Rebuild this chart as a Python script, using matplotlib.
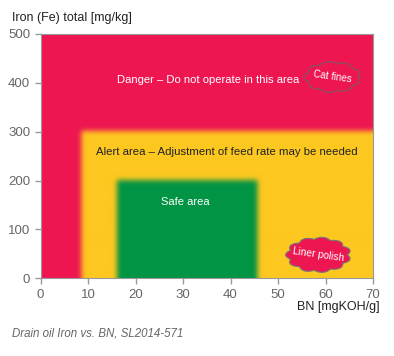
import matplotlib
matplotlib.use('Agg')
import numpy as np
import matplotlib.pyplot as plt
from matplotlib.patches import Polygon

# zones: danger, alert, safe (drawn in that order, later ones on top)
zone_x0 = [0, 8.5, 16]
zone_x1 = [70, 70, 45.5]
zone_y1 = [500, 300, 200]
zone_colors = ['#ee1651', '#fdc81f', '#009444']

zone_labels = ['Danger \u2013 Do not operate in this area',
               'Alert area \u2013 Adjustment of feed rate may be needed',
               'Safe area']
label_x = [35.3, 39.3, 30.5]
label_y = [405, 258, 157]
label_colors = ['white', '#222222', 'white']

cloud_names = ['Cat fines', 'Liner polish']
cloud_x = [61.5, 58.5]
cloud_y = [412, 48]

xticks = [0, 10, 20, 30, 40, 50, 60, 70]
yticks = [0, 100, 200, 300, 400, 500]

plt.rcParams['font.family'] = ['Liberation Sans', 'DejaVu Sans']

fig = plt.figure(figsize=(3.94, 3.56), dpi=100)
ax = fig.add_axes([0.1028, 0.2183, 0.8439, 0.6862])

# build the coloured field and soften the borders
nx, ny = 666, 488
xs = np.linspace(0, 70, nx)
ys = np.linspace(0, 500, ny)
X, Y = np.meshgrid(xs, ys)
img = np.zeros((ny, nx, 3))
for x0, x1, y1, c in zip(zone_x0, zone_x1, zone_y1, zone_colors):
    m = (X >= x0) & (X <= x1) & (Y <= y1)
    img[m] = matplotlib.colors.to_rgb(c)

def blur(a, sigma):
    r = int(3 * sigma)
    k = np.exp(-0.5 * (np.arange(-r, r + 1) / sigma) ** 2)
    k /= k.sum()
    out = a.copy()
    for ch in range(3):
        p = np.pad(a[:, :, ch], ((0, 0), (r, r)), mode='edge')
        out[:, :, ch] = np.array([np.convolve(row, k, mode='valid') for row in p])
        p = np.pad(out[:, :, ch], ((r, r), (0, 0)), mode='edge')
        out[:, :, ch] = np.array([np.convolve(col, k, mode='valid') for col in p.T]).T
    return out

img = blur(img, 5)
ax.imshow(img, origin='lower', extent=[0, 70, 0, 500], aspect='auto',
          interpolation='bilinear')

label_sizes = [8.1, 8.2, 8]
for t, x, y, c, fs in zip(zone_labels, label_x, label_y, label_colors, label_sizes):
    ax.text(x, y, t, color=c, fontsize=fs, ha='center', va='center')

def cloud(cx, cy, w, h, n=9):
    t = np.linspace(0, 2 * np.pi, 400)
    s = 1 + 0.13 * np.abs(np.sin(n * t / 2))
    return np.column_stack([cx + w * s * np.cos(t), cy + h * s * np.sin(t)])

# cat fines: dashed outline only
ax.add_patch(Polygon(cloud(cloud_x[0], cloud_y[0], 5.3, 28), closed=True,
                     fill=False, ec='#666666', lw=1, ls=(0, (2, 1))))
ax.text(cloud_x[0], cloud_y[0], cloud_names[0], color='white', fontsize=7,
        ha='center', va='center', rotation=-8)
# liner polish: filled cloud
ax.add_patch(Polygon(cloud(cloud_x[1], cloud_y[1], 6.1, 32, n=11), closed=True,
                     fc='#ee1651', ec='#777777', lw=0.8))
ax.text(cloud_x[1], cloud_y[1], cloud_names[1], color='white', fontsize=7.3,
        ha='center', va='center', rotation=-8)

ax.set_xlim(0, 70)
ax.set_ylim(0, 500)
ax.set_xticks(xticks)
ax.set_yticks(yticks)
ax.tick_params(colors='#999999', labelcolor='#666666', labelsize=9.5, length=4,
               width=1)
for s in ax.spines.values():
    s.set_color('#999999')

fig.text(12 / 394, 1 - 18 / 356, 'Iron (Fe) total [mg/kg]', fontsize=9,
         color='#222222', va='center', ha='left')
fig.text(380 / 394, 1 - 307 / 356, 'BN [mgKOH/g]', fontsize=9,
         color='#222222', va='center', ha='right')
fig.text(12 / 394, 1 - 334 / 356, 'Drain oil Iron vs. BN, SL2014-571',
         fontsize=8.3, color='#666666', style='italic', va='center', ha='left')

fig.savefig('out.png', dpi=100)
